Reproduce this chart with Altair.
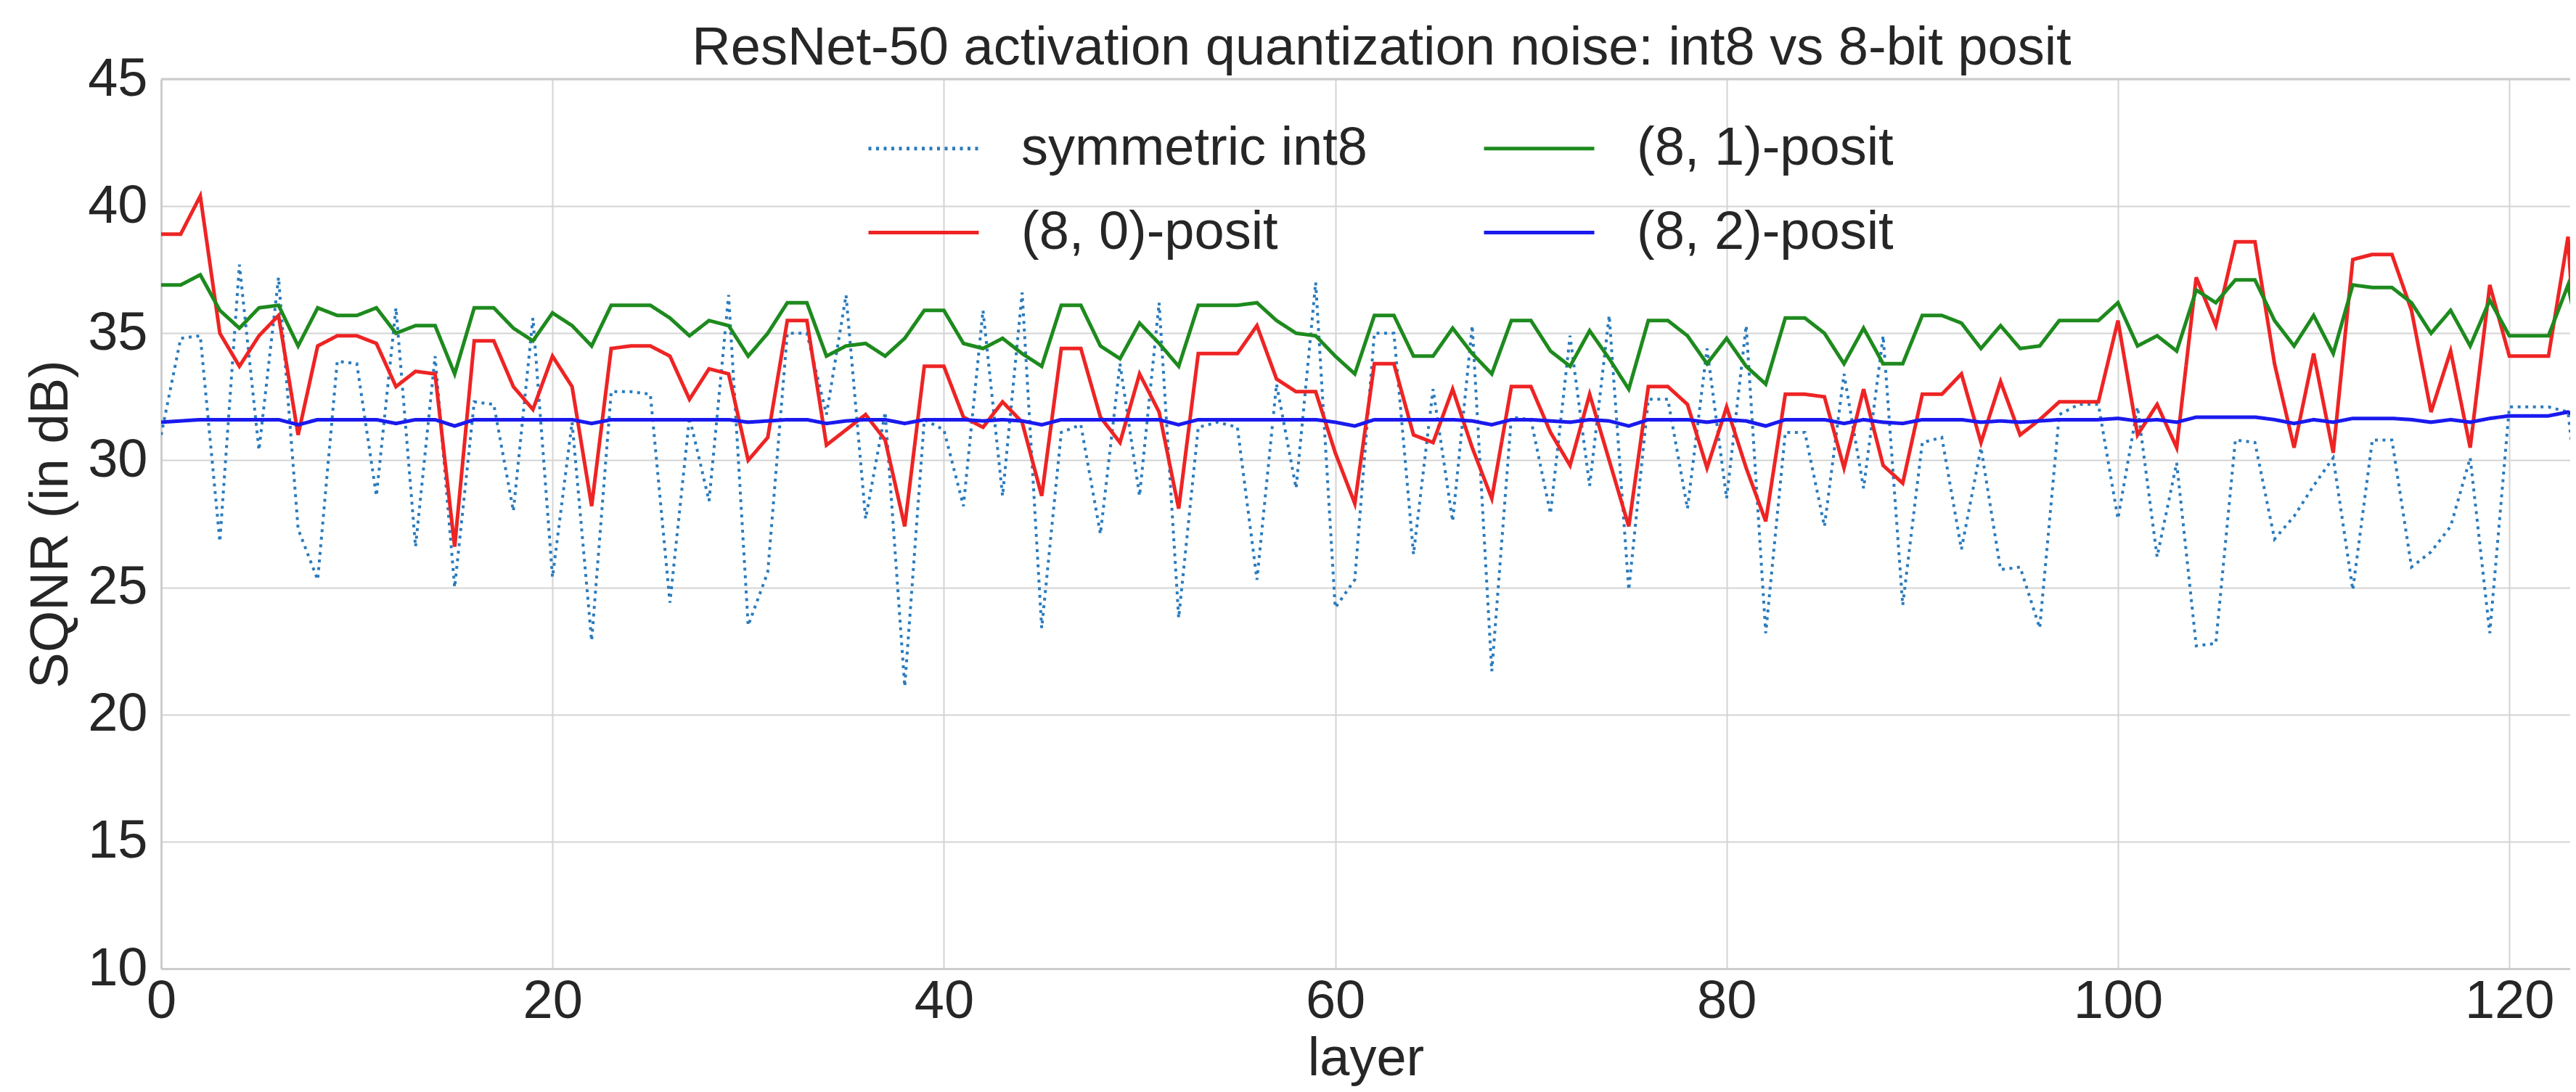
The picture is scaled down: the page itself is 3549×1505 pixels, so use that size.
import altair as alt
import pandas as pd

layers = list(range(125))

int8 = [31.0, 34.8, 34.9, 26.8, 37.7, 30.4, 37.2, 27.3, 25.3, 33.9,
        33.8, 28.6, 36.0, 26.6, 34.1, 25.0, 32.3, 32.2, 28.0, 35.6,
        25.4, 31.5, 22.9, 32.7, 32.7, 32.6, 24.4, 31.7, 28.4, 36.5,
        23.5, 25.6, 35.0, 35.0, 31.8, 36.5, 27.7, 31.9, 21.1, 31.6,
        31.2, 28.2, 35.9, 28.6, 36.6, 23.4, 31.1, 31.4, 27.1, 33.8,
        28.6, 36.2, 23.8, 31.3, 31.5, 31.3, 25.3, 33.0, 28.9, 37.0,
        24.2, 25.3, 35.0, 35.0, 26.3, 32.8, 27.6, 35.3, 21.7, 31.7,
        31.6, 27.9, 34.9, 29.0, 35.7, 24.9, 32.4, 32.4, 28.1, 34.4,
        28.5, 35.3, 23.2, 31.1, 31.1, 27.4, 33.4, 28.9, 34.9, 24.3,
        30.7, 30.9, 26.5, 30.5, 25.7, 25.8, 23.4, 31.8, 32.2, 32.2,
        27.7, 32.1, 26.2, 29.9, 22.7, 22.8, 30.8, 30.7, 26.9, 27.8,
        29.0, 30.1, 24.9, 30.8, 30.8, 25.8, 26.4, 27.4, 30.1, 23.2,
        32.1, 32.1, 32.1, 31.9, 25.0]

posit80 = [38.9, 38.9, 40.4, 35.0, 33.7, 34.9, 35.7, 31.0, 34.5, 34.9,
           34.9, 34.6, 32.9, 33.5, 33.4, 26.6, 34.7, 34.7, 32.9, 32.0,
           34.1, 32.9, 28.2, 34.4, 34.5, 34.5, 34.1, 32.4, 33.6, 33.4,
           30.0, 30.9, 35.5, 35.5, 30.6, 31.2, 31.8, 30.8, 27.4, 33.7,
           33.7, 31.7, 31.3, 32.3, 31.5, 28.6, 34.4, 34.4, 31.7, 30.7,
           33.4, 31.9, 28.1, 34.2, 34.2, 34.2, 35.3, 33.2, 32.7, 32.7,
           30.3, 28.3, 33.8, 33.8, 31.0, 30.7, 32.8, 30.5, 28.5, 32.9,
           32.9, 31.1, 29.8, 32.6, 30.0, 27.4, 32.9, 32.9, 32.2, 29.7,
           32.1, 29.7, 27.6, 32.6, 32.6, 32.5, 29.7, 32.8, 29.8, 29.1,
           32.6, 32.6, 33.4, 30.7, 33.1, 31.0, 31.6, 32.3, 32.3, 32.3,
           35.5, 31.0, 32.2, 30.5, 37.2, 35.3, 38.6, 38.6, 33.8, 30.5,
           34.2, 30.3, 37.9, 38.1, 38.1, 35.9, 31.9, 34.3, 30.5, 36.9,
           34.1, 34.1, 34.1, 38.8, 26.0]

posit81 = [36.9, 36.9, 37.3, 35.9, 35.2, 36.0, 36.1, 34.5, 36.0, 35.7,
           35.7, 36.0, 35.0, 35.3, 35.3, 33.4, 36.0, 36.0, 35.2, 34.7,
           35.8, 35.3, 34.5, 36.1, 36.1, 36.1, 35.6, 34.9, 35.5, 35.3,
           34.1, 35.0, 36.2, 36.2, 34.1, 34.5, 34.6, 34.1, 34.8, 35.9,
           35.9, 34.6, 34.4, 34.8, 34.2, 33.7, 36.1, 36.1, 34.5, 34.0,
           35.4, 34.6, 33.7, 36.1, 36.1, 36.1, 36.2, 35.5, 35.0, 34.9,
           34.1, 33.4, 35.7, 35.7, 34.1, 34.1, 35.2, 34.2, 33.4, 35.5,
           35.5, 34.3, 33.7, 35.1, 34.0, 32.8, 35.5, 35.5, 34.9, 33.8,
           34.8, 33.7, 33.0, 35.6, 35.6, 35.0, 33.8, 35.2, 33.8, 33.8,
           35.7, 35.7, 35.4, 34.4, 35.3, 34.4, 34.5, 35.5, 35.5, 35.5,
           36.2, 34.5, 34.9, 34.3, 36.7, 36.2, 37.1, 37.1, 35.5, 34.5,
           35.7, 34.2, 36.9, 36.8, 36.8, 36.2, 35.0, 35.9, 34.5, 36.3,
           34.9, 34.9, 34.9, 36.9, 33.0]

posit82 = [31.5, 31.55, 31.6, 31.6, 31.6, 31.6, 31.6, 31.4, 31.6, 31.6,
           31.6, 31.6, 31.45, 31.6, 31.6, 31.35, 31.6, 31.6, 31.6, 31.6,
           31.6, 31.6, 31.45, 31.6, 31.6, 31.6, 31.6, 31.6, 31.6, 31.6,
           31.5, 31.55, 31.6, 31.6, 31.45, 31.55, 31.6, 31.6, 31.45, 31.6,
           31.6, 31.6, 31.55, 31.6, 31.55, 31.4, 31.6, 31.6, 31.6, 31.6,
           31.6, 31.6, 31.4, 31.6, 31.6, 31.6, 31.6, 31.6, 31.6, 31.6,
           31.5, 31.35, 31.6, 31.6, 31.6, 31.6, 31.6, 31.55, 31.4, 31.6,
           31.6, 31.55, 31.5, 31.6, 31.55, 31.35, 31.6, 31.6, 31.6, 31.5,
           31.6, 31.55, 31.35, 31.6, 31.6, 31.6, 31.45, 31.6, 31.5, 31.45,
           31.6, 31.6, 31.6, 31.5, 31.55, 31.5, 31.55, 31.6, 31.6, 31.6,
           31.65, 31.55, 31.6, 31.5, 31.7, 31.7, 31.7, 31.7, 31.6, 31.45,
           31.6, 31.5, 31.65, 31.65, 31.65, 31.6, 31.5, 31.6, 31.5, 31.65,
           31.75, 31.75, 31.75, 31.9, 31.5]

series_names = ["symmetric int8", "(8, 0)-posit", "(8, 1)-posit", "(8, 2)-posit"]
series_values = [int8, posit80, posit81, posit82]
series_colors = ["#2a7bbd", "#ee2424", "#1e8a1e", "#1a1aee"]
series_dashes = [[4, 6.5], [1, 0], [1, 0], [1, 0]]
stroke_widths = {"symmetric int8": 4, "(8, 0)-posit": 5, "(8, 1)-posit": 5, "(8, 2)-posit": 5}

rows = []
for name, vals in zip(series_names, series_values):
    for l, v in zip(layers, vals):
        rows.append({"layer": l, "sqnr": v, "series": name})
df = pd.DataFrame(rows)

FONT = "Liberation Sans"
TXT = "#262626"
FS = 74

x_enc = alt.X("layer:Q", scale=alt.Scale(domain=[0, 123.11], nice=False, zero=False),
              axis=alt.Axis(values=[0, 20, 40, 60, 80, 100, 120], title="layer", format="d",
                            labelFlush=False))
y_enc = alt.Y("sqnr:Q", scale=alt.Scale(domain=[10, 45], nice=False, zero=False),
              axis=alt.Axis(values=[10, 15, 20, 25, 30, 35, 40, 45], title="SQNR (in dB)",
                            labelFlush=False))
color_enc = alt.Color("series:N", title=None,
                      scale=alt.Scale(domain=series_names, range=series_colors))
dash_enc = alt.StrokeDash("series:N", title=None,
                          scale=alt.Scale(domain=series_names, range=series_dashes))

base = alt.Chart(df)
line_layers = []
for name in series_names:
    line_layers.append(
        base.transform_filter(alt.datum.series == name)
        .mark_line(clip=True, strokeWidth=stroke_widths[name])
        .encode(x=x_enc, y=y_enc, color=color_enc, strokeDash=dash_enc)
    )

top_df = pd.DataFrame({"top": [45]})
top_rule = alt.Chart(top_df).mark_rule(color="#cccccc", strokeWidth=3).encode(
    y=alt.Y("top:Q", scale=alt.Scale(domain=[10, 45], nice=False, zero=False))
)

chart = alt.layer(*line_layers, top_rule).properties(
    width=3319,
    height=1226,
    autosize=alt.AutoSizeParams(type="none"),
    padding={"left": 214, "top": 101, "right": 0, "bottom": 162},
    title=alt.TitleParams(
        "ResNet-50 activation quantization noise: int8 vs 8-bit posit",
        fontSize=FS, font=FONT, fontWeight="normal", color=TXT,
        anchor="middle", frame="group", offset=-33, dx=22,
    ),
).configure_view(strokeWidth=0).configure_axis(
    labelFont=FONT, labelFontSize=FS, labelColor=TXT,
    titleFont=FONT, titleFontSize=FS, titleColor=TXT, titleFontWeight="normal",
    ticks=False, domainColor="#cccccc", domainWidth=3,
    gridColor="#d4d4d4", gridWidth=2,
).configure_axisX(
    labelPadding=9, titlePadding=6,
).configure_axisY(
    labelPadding=19, titlePadding=12,
).configure_legend(
    orient="none", legendX=972, legendY=17, columns=2,
    symbolType="stroke", symbolSize=23104, symbolStrokeWidth=5,
    labelFont=FONT, labelFontSize=FS, labelColor=TXT, labelLimit=1000,
    labelOffset=56, columnPadding=150, rowPadding=-3, padding=0,
)

chart.save("out.html", embed_options={"renderer": "svg", "actions": False})
